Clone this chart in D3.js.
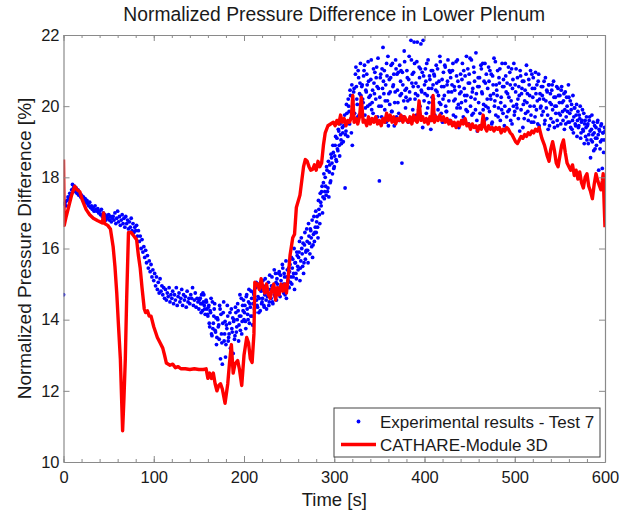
<!DOCTYPE html>
<html>
<head>
<meta charset="utf-8">
<script src="https://cdn.jsdelivr.net/npm/d3@7"></script>
<style>
  html, body { margin: 0; padding: 0; background: #fff; }
  svg { display: block; }
  text { font-family: "Liberation Sans", Arial, Helvetica, sans-serif; fill: #1a1a1a; }
</style>
</head>
<body>
<svg id="chart" width="632" height="514"></svg>
<script>
// ---------------- data ----------------
const chartTitle = "Normalized Pressure Difference in Lower Plenum";
const xLabel = "Time [s]";
const yLabel = "Normalized Pressure Difference [%]";
const xTicks = [0, 100, 200, 300, 400, 500, 600];
const xMinorTicks = [0,20,40,60,80,100,120,140,160,180,200,220,240,260,280,300,320,340,360,380,400,420,440,460,480,500,520,540,560,580,600];
const yTicks = [10, 12, 14, 16, 18, 20, 22];
const seriesNames = ["Experimental results - Test 7", "CATHARE-Module 3D"];

// Experimental results - Test 7, readings on the whole seconds (t = 0 ... 600 s)
const expStartA = 0;
const expStepA = 1;
const expValuesA = [
  14.7, 17.25, 17.3, 17.2, 17.35, 17.45, 17.4, 17.55, 17.5, 17.65,
  17.8, 17.7, 17.75, 17.6, 17.7, 17.55, 17.65, 17.5, 17.55, 17.45,
  17.5, 17.4, 17.45, 17.35, 17.4, 17.3, 17.35, 17.25, 17.2, 17.3,
  17.15, 17.2, 17.1, 17.15, 17.05, 17.2, 17.1, 17.05, 17.12, 17.0,
  17.05, 16.95, 17.1, 16.9, 17.0, 16.85, 16.95, 16.8, 16.9, 16.85,
  16.95, 16.8, 16.9, 16.75, 16.85, 16.9, 16.8, 17.0, 16.7, 16.85,
  17.05, 16.75, 16.9, 16.65, 16.8, 16.95, 16.7, 16.85, 16.6, 16.9,
  16.7, 16.8, 16.55, 16.75, 16.6, 16.85, 16.5, 16.7, 16.45, 16.6,
  16.5, 16.65, 16.35, 16.5, 16.2, 16.35, 16.0, 16.25, 15.9, 16.05,
  15.75, 15.95, 15.6, 15.8, 15.45, 15.65, 15.35, 15.55, 15.2, 15.4,
  15.1, 15.3, 14.95, 15.2, 14.85, 15.05, 14.75, 15.15, 14.8, 14.95,
  14.7, 14.9, 14.6, 14.85, 14.55, 14.75, 14.65, 14.9, 14.5, 14.7,
  14.6, 14.8, 14.45, 14.7, 14.55, 14.9, 14.4, 14.65, 14.75, 14.5,
  14.6, 14.85, 14.4, 14.7, 14.55, 14.65, 14.35, 14.8, 14.5, 14.6,
  14.45, 14.7, 14.6, 14.9, 14.4, 14.55, 14.75, 14.35, 14.6, 14.5,
  14.3, 14.6, 14.45, 14.7, 14.25, 14.5, 14.4, 14.15, 14.55, 14.3,
  14.1, 14.4, 13.8, 14.2, 13.6, 14.5, 13.9, 14.3, 13.7, 14.05,
  13.5, 14.0, 13.85, 14.4, 12.9, 13.6, 12.75, 14.2, 13.4, 13.95,
  13.3, 13.75, 14.1, 13.5, 13.9, 13.2, 14.3, 13.65, 13.05, 14.0,
  13.55, 14.2, 13.8, 14.45, 13.4, 14.1, 13.7, 14.6, 13.95, 14.25,
  14.0, 14.4, 13.75, 14.7, 14.15, 14.5, 13.9, 14.35, 14.8, 14.1,
  14.45, 14.7, 14.2, 14.9, 14.55, 14.35, 15.0, 14.6, 14.25, 14.8,
  14.5, 15.1, 14.4, 14.7, 14.95, 14.3, 14.65, 15.05, 14.5, 14.85,
  14.6, 15.2, 14.45, 14.9, 14.7, 15.3, 14.55, 15.0, 14.8, 15.35,
  14.65, 15.1, 14.9, 15.45, 14.75, 15.2, 15.0, 14.6, 15.4, 15.1,
  14.9, 15.55, 15.2, 15.0, 15.7, 15.3, 14.85, 15.6, 15.15, 15.8,
  15.4, 15.9, 15.1, 15.65, 16.0, 15.5, 15.3, 16.1, 15.7, 15.95,
  16.2, 15.6, 16.35, 15.85, 16.5, 16.05, 15.75, 16.4, 16.2, 16.6,
  16.45, 16.9, 16.3, 17.1, 16.7, 17.3, 17.6, 17.0, 17.85, 17.4,
  18.0, 17.5, 18.2, 17.7, 17.45, 18.35, 17.9, 18.55, 18.1, 18.7,
  18.3, 18.9, 18.5, 19.1, 18.75, 19.3, 18.6, 19.2, 18.95, 19.4,
  19.0, 19.6, 17.7, 19.3, 19.8, 19.15, 20.0, 19.5, 20.3, 19.25,
  18.9, 19.9, 20.5, 19.6, 21.1, 20.2, 19.7, 20.8, 20.35, 21.2,
  19.9, 20.6, 20.1, 21.0, 19.75, 20.45, 20.9, 20.0, 20.7, 19.6,
  20.3, 21.3, 20.1, 19.8, 20.65, 20.95, 20.2, 21.1, 19.7, 20.5,
  17.9, 20.8, 20.0, 21.05, 21.65, 20.35, 19.9, 20.6, 21.2, 20.15,
  19.45, 20.75, 20.4, 21.15, 19.85, 20.55, 20.9, 20.1, 21.3, 19.7,
  20.45, 20.95, 19.6, 20.3, 21.0, 18.4, 20.6, 20.15, 21.25, 19.95,
  20.5, 20.8, 19.55, 21.4, 20.2, 21.85, 20.65, 19.9, 20.95, 21.2,
  20.35, 19.75, 21.8, 20.55, 21.1, 20.0, 21.75, 20.4, 19.4, 20.85,
  20.6, 21.05, 19.8, 20.3, 21.3, 20.1, 20.75, 19.35, 20.5, 21.0,
  20.2, 20.85, 19.65, 21.15, 20.4, 19.9, 20.7, 21.4, 20.05, 20.55,
  19.55, 20.95, 20.3, 21.1, 19.85, 20.6, 21.3, 20.15, 19.6, 20.8,
  20.4, 21.0, 19.75, 20.55, 20.2, 21.25, 19.95, 20.7, 19.4, 20.35,
  20.9, 20.1, 21.2, 19.7, 20.5, 20.85, 19.9, 20.3, 21.05, 19.5,
  20.65, 20.0, 21.3, 20.4, 19.8, 20.95, 20.2, 21.5, 19.6, 20.55,
  20.1, 20.8, 19.45, 21.05, 20.35, 19.9, 20.7, 21.2, 20.0, 19.65,
  20.5, 21.1, 19.85, 20.3, 20.9, 19.55, 20.6, 21.35, 20.15, 19.75,
  20.45, 21.0, 19.95, 20.65, 19.6, 20.25, 21.2, 19.8, 20.55, 20.0,
  20.85, 19.7, 20.35, 21.1, 19.9, 20.6, 20.15, 19.5, 20.75, 21.2,
  19.85, 20.4, 20.05, 20.8, 19.65, 20.3, 21.0, 19.9, 20.5, 19.4,
  20.7, 20.15, 19.8, 21.15, 20.35, 19.6, 20.6, 20.0, 19.75, 20.9,
  20.25, 19.55, 20.5, 20.95, 19.9, 20.15, 20.7, 19.45, 20.35, 20.0,
  19.75, 20.55, 20.2, 19.5, 20.8, 19.95, 20.4, 19.35, 20.6, 20.1,
  19.65, 20.45, 19.9, 20.7, 19.4, 20.25, 20.0, 19.6, 20.5, 19.8,
  20.3, 19.5, 20.55, 19.85, 20.15, 19.35, 20.4, 19.7, 20.0, 19.55,
  20.25, 19.8, 19.4, 20.05, 19.6, 19.25, 19.95, 19.5, 19.75, 19.15,
  19.85, 19.45, 19.65, 19.1, 19.55, 19.9, 19.3, 18.95, 19.6, 19.4,
  19.05, 19.5, 19.2, 19.7, 18.55, 19.35, 19.0, 19.55, 19.25, 18.8,
  19.4, 19.1, 19.6, 18.2, 19.3, 19.0, 19.5, 18.25, 19.25, 19.05,
  19.3
];

// Experimental results - Test 7, readings on the half seconds (t = 150.5 ... 599.5 s)
const expStartB = 150.5;
const expStepB = 1;
const expValuesB = [
  14.55, 14.6, 14.2, 14.45, 14.75, 14.7, 14.3, 14.5, 14.5, 14.15,
  14.35, 13.9, 14.25, 14.6, 13.55, 13.75, 14.1, 14.45, 13.65, 13.3,
  14.05, 13.8, 13.45, 14.3, 14.15, 13.35, 13.9, 14.5, 13.6, 12.95,
  13.85, 14.4, 13.4, 13.6, 14.2, 12.9, 13.75, 14.05, 13.95, 13.45,
  14.35, 13.65, 14.0, 14.25, 13.85, 14.7, 14.1, 13.6, 14.4, 14.55,
  14.2, 13.95, 14.65, 14.3, 14.0, 14.85, 14.45, 14.1, 14.6, 13.85,
  14.75, 14.3, 14.55, 15.05, 14.4, 14.65, 14.2, 14.95, 14.85, 14.45,
  14.6, 14.9, 14.35, 15.15, 14.55, 14.8, 14.75, 14.4, 15.25, 14.7,
  14.95, 14.5, 14.85, 15.4, 14.65, 15.05, 15.15, 14.75, 15.3, 14.9,
  15.25, 14.85, 15.55, 15.0, 15.3, 14.7, 15.65, 15.2, 14.95, 15.45,
  15.35, 15.05, 15.75, 15.45, 15.2, 16.0, 15.6, 15.3, 15.9, 15.5,
  15.75, 16.2, 15.45, 16.3, 15.85, 16.15, 15.6, 16.45, 15.9, 16.55,
  15.95, 16.7, 16.15, 16.55, 16.3, 16.8, 16.1, 16.9, 16.45, 17.05,
  16.75, 16.6, 17.35, 16.95, 17.55, 17.2, 17.75, 17.45, 18.1, 17.6,
  17.75, 18.3, 17.6, 18.45, 18.15, 17.85, 18.65, 18.4, 18.9, 18.25,
  18.6, 19.15, 18.45, 18.8, 19.35, 18.9, 19.5, 19.05, 19.6, 19.25,
  19.45, 19.75, 19.2, 20.05, 19.55, 20.2, 19.85, 20.45, 19.65, 20.6,
  20.15, 20.4, 19.8, 20.9, 20.55, 20.05, 21.0, 19.75, 20.65, 20.3,
  20.55, 20.2, 20.85, 21.15, 19.95, 20.4, 20.6, 21.25, 20.25, 20.05,
  20.75, 19.9, 20.45, 21.05, 20.35, 19.65, 20.8, 20.55, 21.35, 20.0,
  20.25, 20.9, 19.7, 20.5, 20.7, 21.0, 20.15, 19.55, 20.85, 21.4,
  20.35, 20.05, 20.8, 19.85, 21.2, 20.6, 19.45, 20.4, 21.05, 20.9,
  20.1, 19.8, 21.15, 20.7, 20.35, 20.95, 19.7, 21.55, 20.45, 20.25,
  21.0, 20.15, 20.75, 20.4, 19.65, 21.3, 20.9, 20.55, 21.8, 20.2,
  20.65, 21.25, 20.3, 19.9, 20.8, 21.05, 20.45, 20.95, 21.85, 20.15,
  20.35, 20.7, 21.2, 19.95, 20.5, 20.85, 19.6, 21.0, 20.25, 20.6,
  20.9, 19.75, 20.45, 20.65, 21.05, 20.3, 20.1, 21.25, 19.8, 20.75,
  20.2, 20.55, 21.15, 20.0, 19.85, 20.7, 20.4, 21.0, 20.95, 19.55,
  20.6, 21.2, 20.15, 20.45, 19.7, 20.85, 21.3, 20.05, 20.55, 19.95,
  20.4, 20.75, 19.6, 21.0, 20.3, 20.15, 21.4, 19.85, 20.65, 20.9,
  21.35, 20.25, 19.75, 20.5, 21.1, 20.7, 19.9, 20.35, 19.3, 20.8,
  20.55, 19.8, 21.15, 20.4, 21.2, 20.05, 19.6, 20.65, 20.9, 20.2,
  19.95, 20.7, 21.0, 20.2, 19.5, 20.85, 20.35, 20.0, 21.25, 20.6,
  20.3, 19.7, 20.8, 21.05, 20.1, 19.9, 20.55, 20.75, 19.45, 21.2,
  20.4, 20.65, 19.85, 20.25, 20.95, 19.6, 21.05, 20.5, 20.0, 19.75,
  20.6, 21.05, 19.95, 20.2, 20.55, 19.3, 20.85, 20.35, 20.7, 20.05,
  19.65, 20.45, 20.9, 20.1, 19.85, 20.75, 20.3, 21.0, 19.55, 20.5,
  20.8, 20.0, 19.7, 20.35, 20.6, 19.5, 20.9, 20.2, 19.95, 20.55,
  20.3, 19.85, 20.7, 19.6, 20.15, 20.45, 19.75, 20.6, 19.45, 20.35,
  20.05, 20.6, 19.55, 20.25, 20.0, 19.8, 20.55, 19.45, 20.3, 20.1,
  19.75, 20.45, 20.1, 19.6, 20.35, 19.9, 19.5, 20.25, 19.85, 20.6,
  19.55, 20.15, 19.9, 19.35, 20.3, 19.7, 19.95, 19.45, 20.05, 19.6,
  19.4, 19.75, 20.0, 19.25, 19.6, 19.35, 19.8, 19.5, 19.15, 19.7,
  19.45, 18.95, 19.6, 19.3, 19.05, 19.75, 19.2, 18.75, 19.45, 19.1,
  18.9, 19.55, 19.2, 19.35, 18.8, 19.45, 19.05, 19.25, 18.7, 19.4
];

// CATHARE-Module 3D
const redTime = [
  0, 0.8, 3, 6, 9, 12.5, 15, 18, 21, 25, 29, 33, 38, 43, 44.5, 45.5, 49, 52, 55, 57,
  59, 61, 63, 65.5, 67, 68.5, 70, 72, 75, 78, 81, 83, 85, 87, 89.5, 91, 93, 95, 97, 100,
  104, 107, 110, 112, 114, 118, 121, 124, 127, 130, 135, 140, 145, 150, 155, 158, 160, 162, 164, 166,
  168, 170, 172, 174, 176, 179, 182, 184, 186, 188, 190, 193, 195, 197.5, 200, 203, 205, 207, 209, 211,
  212, 215, 217, 219, 221, 223, 225, 227, 229, 231, 233, 235, 237, 239, 241, 243, 245, 247, 249, 251,
  254, 256, 258, 262, 264, 266, 268, 270, 272, 274, 276, 278, 280, 282, 284, 286, 288, 290, 293, 296,
  299, 301, 303, 305, 307, 309, 311, 313, 315, 317, 319, 320.5, 322, 324, 326, 328, 330, 332, 334, 336,
  338, 340, 342, 344, 346, 348, 350, 352, 354, 356, 358, 360, 362, 364, 366, 368, 370, 372, 374, 376,
  378, 380, 382, 384, 386, 388, 390, 392, 394, 396, 398, 400, 402, 404, 406, 408, 409.5, 411, 413, 415,
  417, 419, 421, 423, 425, 427, 429, 431, 433, 435, 437, 439, 441, 443, 445, 447, 449, 451, 453, 455,
  457, 459, 461, 463, 465, 467, 469, 471, 473, 475, 477, 479, 481, 483, 485, 487, 489, 491, 493, 495,
  497, 499, 501, 503, 505, 507, 509, 511, 513, 515, 517, 519, 521, 523, 525, 527, 530, 533, 536, 538,
  540, 542, 544, 546, 548, 550, 552, 554, 556, 558, 560, 562, 564, 566, 568, 570, 572, 574, 576, 578,
  580, 582, 584, 586, 588, 590, 592, 594, 595.5, 597, 598, 599, 600
];
const redValue = [
  18.5, 16.65, 16.9, 17.2, 17.5, 17.75, 17.65, 17.6, 17.35, 17.1, 16.95, 16.85, 16.78, 16.72, 17.0, 16.7, 16.65, 16.55, 16.05, 15.5,
  14.75, 13.8, 12.9, 10.88, 11.8, 12.9, 14.6, 16.45, 16.45, 16.35, 16.25, 15.8, 15.45, 14.9, 14.3, 14.2, 14.25, 14.1, 14.1, 13.8,
  13.5, 13.35, 13.2, 13.0, 12.78, 12.72, 12.75, 12.65, 12.68, 12.62, 12.62, 12.6, 12.62, 12.6, 12.6, 12.62, 12.35, 12.5, 12.35, 12.5,
  12.2, 12.0, 12.15, 12.2, 12.05, 11.65, 12.2, 12.8, 13.3, 12.5, 12.75, 12.85, 12.6, 12.15, 13.0, 13.5, 13.35, 12.9, 12.8, 13.6,
  15.05, 15.0, 14.85, 15.15, 14.9, 14.75, 15.0, 14.7, 14.6, 14.85, 15.0, 14.55, 14.9, 14.7, 15.0, 14.8, 15.0, 14.75, 15.2, 15.8,
  16.3, 16.4, 17.15, 17.5, 17.9, 18.3, 18.5, 18.45, 18.3, 18.2, 18.22, 18.35, 18.2, 18.45, 18.3, 18.4, 18.9, 19.25, 19.45, 19.5,
  19.55, 19.45, 19.6, 19.5, 19.75, 19.55, 19.65, 19.45, 19.6, 19.55, 19.7, 20.3, 19.55, 19.65, 19.5, 19.7, 20.25, 19.55, 19.6, 19.45,
  19.7, 19.5, 19.65, 19.55, 19.7, 19.5, 19.6, 19.45, 19.65, 19.55, 19.8, 19.6, 19.75, 19.55, 19.7, 19.5, 19.65, 19.6, 19.75, 19.55,
  19.7, 19.6, 19.55, 19.7, 19.5, 19.75, 19.6, 19.55, 20.15, 19.6, 19.7, 19.55, 19.65, 19.5, 19.7, 19.6, 20.3, 19.55, 19.7, 19.6,
  19.75, 19.6, 19.7, 19.55, 19.65, 19.5, 19.6, 19.45, 19.55, 19.4, 19.55, 19.45, 19.6, 19.5, 19.65, 19.45, 19.5, 19.35, 19.5, 19.4,
  19.45, 19.3, 19.45, 19.35, 19.75, 19.4, 19.3, 19.45, 19.35, 19.4, 19.3, 19.4, 19.35, 19.4, 19.25, 19.35, 19.3, 19.4, 19.35, 19.25,
  19.2, 19.1, 19.0, 18.95, 19.05, 19.15, 19.1, 19.2, 19.15, 19.25, 19.2, 19.3, 19.25, 19.35, 19.3, 19.4, 19.1, 18.9, 18.6, 18.45,
  18.8, 19.0, 18.75, 18.4, 18.3, 18.6, 18.9, 19.05, 18.7, 18.4, 18.3, 18.2, 18.35, 18.05, 18.2, 17.95, 18.15, 17.85, 17.7, 18.0,
  18.1, 17.75, 17.6, 17.4, 17.8, 18.1, 17.9, 17.75, 17.65, 17.9, 18.1, 17.3, 16.6
];

// ---------------- chart ----------------
const svg = d3.select("#chart");
const plot = { left: 63.5, right: 605, top: 35, bottom: 462 };
const x = d3.scaleLinear().domain([0, 600]).range([plot.left, plot.right]);
const y = d3.scaleLinear().domain([10, 22]).range([plot.bottom, plot.top]);
const frameColor = "#8a8a8a";

svg.append("rect").attr("width", 632).attr("height", 514).attr("fill", "#fff");

svg.append("clipPath").attr("id", "clip")
  .append("rect").attr("x", plot.left).attr("y", plot.top)
  .attr("width", plot.right - plot.left).attr("height", plot.bottom - plot.top);

const dataG = svg.append("g").attr("clip-path", "url(#clip)");

const expData = expValuesA.map((v, i) => ({ t: expStartA + i * expStepA, v }))
  .concat(expValuesB.map((v, i) => ({ t: expStartB + i * expStepB, v })));
dataG.append("g").selectAll("circle").data(expData).join("circle")
  .attr("cx", d => x(d.t)).attr("cy", d => y(d.v)).attr("r", 1.9)
  .attr("fill", "#0000ff");

const redData = redTime.map((t, i) => ({ t, v: redValue[i] }));
dataG.append("path").datum(redData)
  .attr("fill", "none").attr("stroke", "#ff0000").attr("stroke-width", 3.4)
  .attr("stroke-linejoin", "round")
  .attr("d", d3.line().x(d => x(d.t)).y(d => y(d.v)));

// axes (ticks pointing inward)
function styleAxis(g) {
  g.select(".domain").attr("stroke", frameColor).attr("stroke-width", 1.2);
  g.selectAll(".tick line").attr("stroke", frameColor).attr("stroke-width", 1);
  g.selectAll(".tick text").style("font-family", '"Liberation Sans", Arial, sans-serif')
    .style("font-size", "16.5px").attr("fill", "#1a1a1a");
}

const noLabel = () => "";
svg.append("g").attr("transform", `translate(0,${plot.bottom})`)
  .call(d3.axisBottom(x).tickValues(xMinorTicks).tickSize(-3).tickFormat(noLabel).tickSizeOuter(0))
  .call(styleAxis);
svg.append("g").attr("transform", `translate(0,${plot.bottom})`)
  .call(d3.axisBottom(x).tickValues(xTicks).tickSize(-6).tickSizeOuter(0).tickPadding(9).tickFormat(d3.format("d")))
  .call(styleAxis);
svg.append("g").attr("transform", `translate(0,${plot.top})`)
  .call(d3.axisTop(x).tickValues(xMinorTicks).tickSize(-3).tickFormat(noLabel).tickSizeOuter(0))
  .call(styleAxis);
svg.append("g").attr("transform", `translate(0,${plot.top})`)
  .call(d3.axisTop(x).tickValues(xTicks).tickSize(-6).tickFormat(noLabel).tickSizeOuter(0))
  .call(styleAxis);
svg.append("g").attr("transform", `translate(${plot.left},0)`)
  .call(d3.axisLeft(y).tickValues(yTicks).tickSize(-6).tickSizeOuter(0).tickPadding(4).tickFormat(d3.format("d")))
  .call(styleAxis);
svg.append("g").attr("transform", `translate(${plot.right},0)`)
  .call(d3.axisRight(y).tickValues(yTicks).tickSize(-6).tickSizeOuter(0).tickFormat(noLabel))
  .call(styleAxis);

// title and axis labels
svg.append("text").attr("x", (plot.left + plot.right) / 2).attr("y", 21)
  .attr("text-anchor", "middle").style("font-size", "19.3px").text(chartTitle);
svg.append("text").attr("x", (plot.left + plot.right) / 2).attr("y", 506)
  .attr("text-anchor", "middle").style("font-size", "18.5px").text(xLabel);
svg.append("text")
  .attr("transform", `translate(31,${(plot.top + plot.bottom) / 2}) rotate(-90)`)
  .attr("text-anchor", "middle").style("font-size", "19px").text(yLabel);

// legend
const lg = svg.append("g");
lg.append("rect").attr("x", 334).attr("y", 408).attr("width", 266).attr("height", 49)
  .attr("fill", "#fff").attr("stroke", "#444").attr("stroke-width", 1);
lg.append("circle").attr("cx", 358.5).attr("cy", 421.5).attr("r", 1.9).attr("fill", "#0000ff");
lg.append("text").attr("x", 380).attr("y", 428).style("font-size", "17px").text(seriesNames[0]);
lg.append("line").attr("x1", 341).attr("x2", 376).attr("y1", 444.5).attr("y2", 444.5)
  .attr("stroke", "#ff0000").attr("stroke-width", 3.4);
lg.append("text").attr("x", 380).attr("y", 451).style("font-size", "17px").text(seriesNames[1]);
</script>
</body>
</html>
